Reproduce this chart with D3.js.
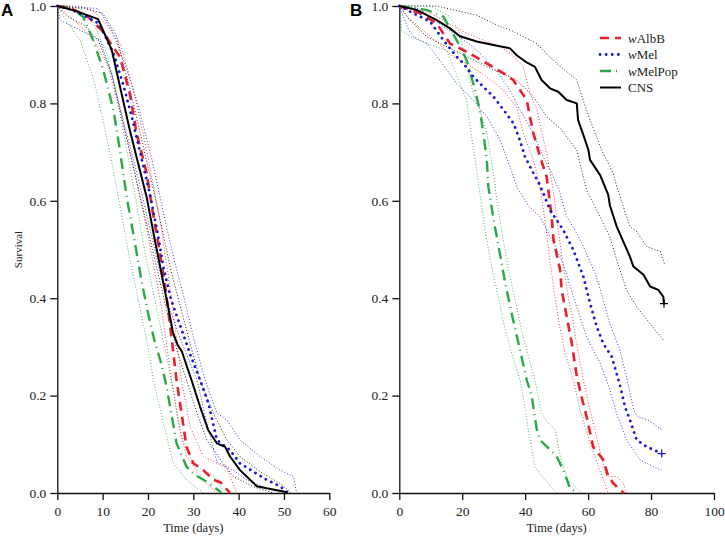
<!DOCTYPE html>
<html><head><meta charset="utf-8">
<script src="https://cdn.jsdelivr.net/npm/d3@7"></script>
<style>body{margin:0;background:#fff}svg{display:block}</style>
</head><body><svg id="c" width="725" height="538"></svg>
<script>
// ---------- DATA ----------
const seriesNames = ["wAlbB", "wMel", "wMelPop", "CNS"];
const xTicksA = [0, 10, 20, 30, 40, 50, 60];
const xTicksB = [0, 20, 40, 60, 80, 100];
const yTicks = [0, 0.2, 0.4, 0.6, 0.8, 1.0];

// Panel A means [day, survival]
const A_wAlbB = [[0,1],[3,0.995],[6.5,0.98],[7.9,0.968],[10.1,0.947],[12,0.92],[13.8,0.896],[16,0.82],[17.5,0.739],[19.7,0.657],[21,0.58],[22.5,0.5],[24,0.41],[25.2,0.32],[26.3,0.232],[27.4,0.164],[28.5,0.095],[30,0.061],[32.2,0.047],[34.4,0.027],[36,0.022],[38.1,0]];
const A_wMel = [[0,1],[3,0.993],[6,0.98],[9,0.965],[10.5,0.94],[12.5,0.9],[14.5,0.84],[16.5,0.77],[18.5,0.69],[20.4,0.615],[22,0.54],[23.5,0.46],[25,0.4],[26.5,0.36],[28,0.32],[29.5,0.28],[31.5,0.232],[33.3,0.185],[35.2,0.109],[38.1,0.088],[40.3,0.061],[43.2,0.044],[46.2,0.027],[49.1,0.014],[51,0]];
const A_wMelPop = [[0,1],[2.8,0.997],[5.7,0.978],[7.9,0.93],[10.1,0.87],[12.4,0.786],[13.8,0.704],[15.3,0.608],[17,0.52],[18.5,0.44],[20,0.37],[21.5,0.31],[22.8,0.27],[23.8,0.232],[24.9,0.177],[26.3,0.102],[28.5,0.054],[30.4,0.037],[33,0.023],[35.9,0.003],[36.2,0]];
const A_CNS = [[0,1],[4,0.99],[9,0.973],[12,0.91],[16,0.745],[19.7,0.608],[21.5,0.52],[23,0.45],[24.5,0.38],[25.5,0.33],[26.5,0.305],[27.5,0.29],[29.6,0.232],[31.5,0.177],[33.3,0.129],[35.2,0.102],[37,0.095],[38.1,0.075],[40.3,0.047],[44,0.014],[46.2,0.0096],[49.9,0.003],[50.8,0]];

// Panel A confidence bands (lower / upper)
const A_wAlbB_lo = [[0,1],[2,0.985],[5,0.96],[8,0.93],[11,0.88],[14,0.78],[17,0.66],[20,0.53],[23,0.38],[25.2,0.232],[26.7,0.143],[28.5,0.075],[32.2,0.027],[35.2,0]];
const A_wAlbB_hi = [[0,1],[5,1],[8,0.99],[11,0.96],[14,0.92],[17,0.82],[20,0.69],[23,0.54],[25.5,0.38],[27.4,0.232],[29.3,0.136],[32.2,0.075],[37.4,0.051],[39.6,0]];
const A_wMel_lo = [[0,1],[0.6,0.971],[5.7,0.947],[9.4,0.93],[12,0.86],[15,0.75],[18,0.64],[21,0.52],[24,0.4],[27,0.32],[30.8,0.232],[33,0.143],[35.2,0.064],[38.8,0.047],[41.8,0.027],[46.2,0.01],[49.9,0]];
const A_wMel_hi = [[0,1],[9,0.995],[12,0.95],[15,0.88],[18,0.79],[21,0.68],[24,0.55],[26,0.47],[28,0.4],[30,0.32],[32.6,0.232],[35.2,0.164],[37.4,0.15],[40.3,0.109],[44.7,0.075],[49.1,0.047],[52.1,0.034],[52.8,0]];
const A_wMelPop_lo = [[0,1],[2,0.97],[5,0.93],[8,0.85],[10,0.77],[12,0.68],[14,0.58],[16,0.48],[18,0.39],[20,0.3],[21.2,0.232],[23.4,0.143],[25.6,0.061],[28.5,0.027],[32.2,0]];
const A_wMelPop_hi = [[0,1],[5,0.995],[8,0.965],[11,0.9],[13,0.82],[15,0.72],[17,0.62],[19,0.51],[21,0.42],[23,0.33],[25,0.24],[27.4,0.116],[30,0.061],[34.4,0.034],[36.6,0.006],[37,0]];
const A_CNS_lo = [[0,1],[2,0.98],[6,0.96],[9,0.93],[12,0.86],[15,0.74],[18,0.62],[21,0.5],[24,0.38],[26.5,0.29],[28.5,0.232],[30.8,0.164],[33,0.109],[36.6,0.061],[38.8,0.034],[43.2,0.013],[47.6,0]];
const A_CNS_hi = [[0,1],[6,0.995],[10,0.985],[13,0.94],[16,0.83],[19,0.71],[22,0.59],[25,0.46],[27.5,0.37],[29.5,0.3],[31.5,0.232],[34.4,0.164],[37.4,0.109],[40.3,0.075],[44.7,0.044],[49.1,0.02],[51.3,0.003],[51.5,0]];

// Panel B means
const B_wAlbB = [[0,1],[6.6,0.985],[11.9,0.964],[16.1,0.923],[21.4,0.906],[27.8,0.882],[34.1,0.858],[36.2,0.848],[38.3,0.828],[40.5,0.807],[41.5,0.773],[42.6,0.739],[44.7,0.691],[46.8,0.65],[48.4,0.568],[49,0.52],[51.1,0.458],[51.6,0.417],[53.2,0.362],[54.8,0.308],[56.4,0.24],[57.9,0.198],[59.5,0.157],[61.6,0.095],[64.8,0.068],[66.4,0.034],[68,0.02],[70.1,0.006],[71.5,0]];
const B_wMel = [[0,1],[4.5,0.985],[9.8,0.968],[14,0.93],[18.2,0.896],[20.4,0.882],[23.5,0.855],[26.7,0.834],[29.9,0.814],[33.1,0.787],[36.3,0.759],[38.3,0.725],[39.9,0.691],[42.6,0.657],[44.7,0.632],[47.9,0.581],[52.1,0.54],[55.3,0.499],[58.5,0.444],[60.6,0.39],[62.7,0.342],[64.8,0.307],[67.5,0.28],[70.1,0.222],[71.7,0.177],[73.3,0.15],[75.4,0.109],[78.6,0.095],[83.4,0.081]];
const B_wMelPop = [[0,1],[8.7,0.992],[14,0.978],[18.2,0.93],[21.4,0.889],[23.5,0.841],[25.6,0.786],[26.7,0.739],[27.8,0.684],[28.3,0.629],[30,0.56],[32,0.49],[34,0.42],[36,0.36],[38.5,0.29],[40.5,0.232],[42.1,0.198],[43.7,0.13],[44.7,0.109],[47.9,0.089],[50,0.075],[52.1,0.047],[53.7,0.02],[54.2,0.01],[56.9,0]];
const B_CNS = [[0,1],[5.5,0.992],[11.9,0.971],[16.1,0.954],[19.3,0.938],[24.6,0.927],[29.9,0.92],[35.2,0.913],[37.3,0.899],[40.5,0.884],[43.1,0.875],[45.2,0.848],[47.9,0.831],[50.5,0.824],[53.2,0.807],[56.4,0.8],[56.8,0.766],[58.5,0.735],[60.1,0.704],[60.6,0.684],[63.8,0.653],[66.4,0.612],[66.9,0.591],[69.1,0.547],[73.3,0.485],[74.4,0.465],[77.6,0.448],[79.7,0.424],[82.3,0.417],[83.9,0.403],[84.1,0.389]];

// Panel B confidence bands
const B_wAlbB_lo = [[0,1],[3,0.975],[8.7,0.944],[17.2,0.896],[24.6,0.869],[32,0.834],[37.3,0.793],[39.4,0.739],[42.6,0.684],[44.7,0.629],[46.5,0.55],[48,0.47],[49.5,0.4],[51,0.34],[53,0.28],[55.3,0.232],[57.4,0.171],[60.6,0.102],[63.7,0.047],[66.4,0]];
const B_wAlbB_hi = [[0,1],[10,0.985],[21.4,0.944],[32,0.916],[36.2,0.899],[39.4,0.875],[41.5,0.821],[43.7,0.787],[46.8,0.698],[48.9,0.623],[50.5,0.54],[52,0.47],[53.5,0.41],[55,0.36],[56.5,0.3],[58.5,0.232],[60.6,0.171],[62.5,0.12],[64,0.08],[65.9,0.034],[69,0.034],[71.2,0.02],[72.2,0]];
const B_wMel_lo = [[0,1],[3,0.95],[4.5,0.937],[8.7,0.923],[12.9,0.889],[18.2,0.841],[23.5,0.807],[27.8,0.773],[32,0.725],[35.2,0.67],[37.3,0.629],[41,0.59],[44.7,0.567],[49,0.513],[52.1,0.472],[55.3,0.403],[59.5,0.321],[63.8,0.267],[66.9,0.212],[69,0.164],[72.2,0.109],[76.5,0.068],[80.7,0.054],[83.4,0.047]];
const B_wMel_hi = [[0,1],[6,0.995],[14,0.958],[23.5,0.916],[29.9,0.875],[35.2,0.827],[38.3,0.787],[42.6,0.739],[45.7,0.691],[48.4,0.657],[51.1,0.615],[53.2,0.567],[56.4,0.533],[58.5,0.506],[62.7,0.444],[66.9,0.348],[70.1,0.294],[72.5,0.23],[74.5,0.17],[76,0.155],[79,0.15],[83.4,0.13]];
const B_wMelPop_lo = [[0,1],[0.7,0.95],[4,0.935],[10,0.92],[15,0.909],[19.3,0.841],[21.4,0.807],[22.5,0.752],[24.1,0.684],[25.6,0.615],[27.5,0.53],[29.5,0.46],[31.5,0.4],[33.5,0.34],[36,0.28],[38.4,0.232],[39.9,0.177],[41,0.13],[43.1,0.054],[46.3,0.027],[50,0]];
const B_wMelPop_hi = [[0,1],[10,1],[16.1,0.978],[19.3,0.944],[21.4,0.875],[23.5,0.821],[25.6,0.787],[27.8,0.739],[29.9,0.657],[31,0.602],[33,0.52],[35,0.45],[37,0.39],[39,0.33],[41,0.28],[43.1,0.232],[45.2,0.164],[47.4,0.143],[49.5,0.13],[51.6,0.061],[53.7,0.027],[57.9,0]];
const B_CNS_lo = [[0,1],[3.4,0.971],[8.7,0.937],[19.3,0.903],[29.9,0.869],[37.3,0.848],[42.6,0.814],[46.8,0.773],[51.1,0.749],[56.4,0.704],[59.5,0.622],[63.8,0.567],[66.9,0.526],[69.1,0.478],[72.2,0.417],[75.4,0.383],[79.6,0.348],[83.9,0.314]];
const B_CNS_hi = [[0,1],[12,1],[24.6,0.981],[31.9,0.958],[35.2,0.951],[43.7,0.923],[44.7,0.916],[50,0.882],[56.4,0.848],[58.4,0.807],[60.6,0.766],[64.3,0.704],[68,0.656],[69.1,0.629],[73.3,0.547],[75.4,0.537],[78.6,0.506],[82.9,0.496],[84.4,0.468]];

// censor marks (end of follow-up)
const B_censored = [["CNS", 84.1, 0.389], ["wMel", 83.4, 0.081]];

// ---------- STYLE ----------
const colors = {wAlbB: "#e8202a", wMel: "#1a1ad0", wMelPop: "#2aa84a", CNS: "#000000"};
const dashes = {wAlbB: "9,6", wMel: "0.1,6", wMelPop: "11,5,1,5", CNS: null};
const widths = {wAlbB: 2.6, wMel: 2.8, wMelPop: 2.4, CNS: 2};

const svg = d3.select("#c");
const y = d3.scaleLinear().domain([0, 1]).range([493, 6]);
const xA = d3.scaleLinear().domain([0, 60]).range([57.3, 329.3]);
const xB = d3.scaleLinear().domain([0, 100]).range([399.3, 714]);

function drawAxes(x, ticks) {
  const gx = svg.append("g").attr("transform", `translate(0,${y(0)})`)
    .call(d3.axisBottom(x).tickValues(ticks).tickFormat(d3.format("d")).tickSize(7).tickPadding(6).tickSizeOuter(0));
  const gy = svg.append("g").attr("transform", `translate(${x(0)},0)`)
    .call(d3.axisLeft(y).tickValues(yTicks).tickFormat(d3.format(".1f")).tickSize(7).tickPadding(4).tickSizeOuter(0));
  [gx, gy].forEach(g => {
    g.selectAll("path,line").attr("stroke", "#111").attr("stroke-width", 1.3);
    g.selectAll("text").attr("font-family", "'Liberation Serif','Times New Roman',serif").attr("font-size", 13.5).attr("fill", "#222");
  });
  svg.append("text").attr("x", (x.range()[0] + x.range()[1]) / 2).attr("y", 532)
    .attr("text-anchor", "middle").attr("font-family", "'Liberation Serif',serif").attr("font-size", 12.5).attr("fill", "#222")
    .text("Time (days)");
}

function drawPanel(x, data) {
  const line = d3.line().x(d => x(d[0])).y(d => y(d[1]));
  const g = svg.append("g");
  data.forEach(([name, mean, lo, hi]) => {
    [lo, hi].forEach(ci => {
      g.append("path").attr("d", line(ci)).attr("fill", "none")
        .attr("stroke", colors[name]).attr("stroke-width", 1).attr("stroke-dasharray", "1,2").attr("opacity", 0.85);
    });
  });
  data.forEach(([name, mean]) => {
    const p = g.append("path").attr("d", line(mean)).attr("fill", "none")
      .attr("stroke", colors[name]).attr("stroke-width", widths[name])
      .attr("stroke-linejoin", "round");
    if (dashes[name]) p.attr("stroke-dasharray", dashes[name]);
    if (name === "wMel") p.attr("stroke-linecap", "round");
  });
}

drawAxes(xA, xTicksA);
drawAxes(xB, xTicksB);

drawPanel(xA, [
  ["wMelPop", A_wMelPop, A_wMelPop_lo, A_wMelPop_hi],
  ["wAlbB", A_wAlbB, A_wAlbB_lo, A_wAlbB_hi],
  ["wMel", A_wMel, A_wMel_lo, A_wMel_hi],
  ["CNS", A_CNS, A_CNS_lo, A_CNS_hi]
]);
drawPanel(xB, [
  ["wMelPop", B_wMelPop, B_wMelPop_lo, B_wMelPop_hi],
  ["wAlbB", B_wAlbB, B_wAlbB_lo, B_wAlbB_hi],
  ["wMel", B_wMel, B_wMel_lo, B_wMel_hi],
  ["CNS", B_CNS, B_CNS_lo, B_CNS_hi]
]);

// censor marks
B_censored.forEach(([name, t, v]) => {
  const cx = xB(t), cy = y(v);
  svg.append("path").attr("d", `M${cx - 4},${cy}H${cx + 4}M${cx},${cy - 4}V${cy + 4}`)
    .attr("stroke", colors[name]).attr("stroke-width", 1.3);
});

// y title (panel A)
svg.append("text").attr("transform", `translate(22,${(y(0) + y(1)) / 2}) rotate(-90)`)
  .attr("text-anchor", "middle").attr("font-family", "'Liberation Serif',serif").attr("font-size", 11).attr("fill", "#222")
  .text("Survival");

// panel letters
svg.append("text").attr("x", 1).attr("y", 16).attr("font-family", "'Liberation Sans',Arial,sans-serif")
  .attr("font-weight", "bold").attr("font-size", 17).text("A");
svg.append("text").attr("x", 350).attr("y", 16).attr("font-family", "'Liberation Sans',Arial,sans-serif")
  .attr("font-weight", "bold").attr("font-size", 17).text("B");

// legend
const leg = svg.append("g");
seriesNames.forEach((name, i) => {
  const ly = 38 + i * 16.5;
  const l = leg.append("line").attr("x1", 600).attr("x2", 621).attr("y1", ly).attr("y2", ly)
    .attr("stroke", colors[name]).attr("stroke-width", widths[name]);
  if (dashes[name]) l.attr("stroke-dasharray", dashes[name]);
  if (name === "wMel") l.attr("stroke-linecap", "round");
  const t = leg.append("text").attr("x", 628).attr("y", ly + 4.5)
    .attr("font-family", "'Liberation Serif',serif").attr("font-size", 13).attr("fill", "#222");
  if (name.startsWith("w")) {
    t.append("tspan").attr("font-style", "italic").text("w");
    t.append("tspan").text(name.slice(1));
  } else t.text(name);
});
</script></body></html>
